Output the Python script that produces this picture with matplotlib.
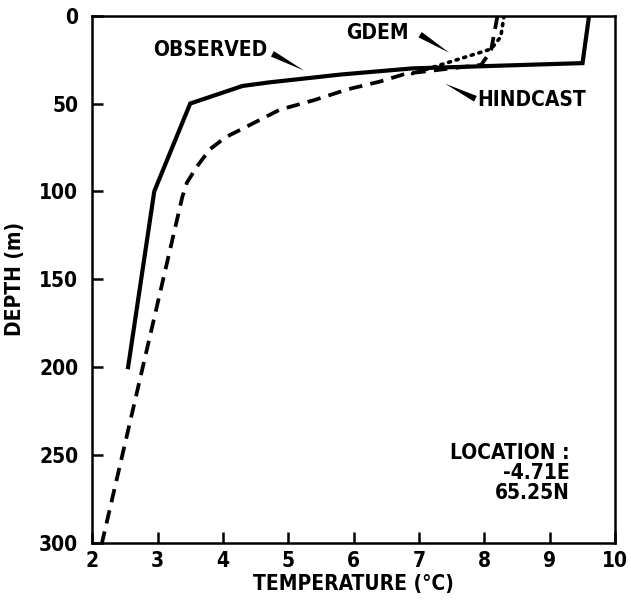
import numpy as np
import matplotlib.pyplot as plt

plt.rcParams['font.family'] = ['DejaVu Sans']
plt.rcParams['font.stretch'] = 'condensed'
plt.rcParams['font.weight'] = 'bold'

# Profiles (temperature in C, depth in m)
obs_temp = [9.6, 9.5, 6.9, 5.8, 4.7, 4.3, 3.5, 2.95, 2.55]
obs_depth = [0, 27, 30, 33.5, 38, 40, 50, 100, 200]

hind_temp = [8.2, 8.1, 7.95, 6.8, 6.4, 5.9, 5.4, 4.87, 4.37, 4.05, 3.8, 3.6, 3.45, 3.38, 2.15]
hind_depth = [0, 20, 28, 33, 37.5, 42, 48, 53.5, 63, 69, 76, 86, 95, 103, 300]

gdem_temp = [8.3, 8.25, 8.1, 7.5, 6.9]
gdem_depth = [0, 12, 19, 26, 33]

xticks = [2, 3, 4, 5, 6, 7, 8, 9, 10]
yticks = [0, 50, 100, 150, 200, 250, 300]

fig = plt.figure(figsize=(6.31, 6.02), dpi=100)
ax = fig.add_axes([0.146, 0.098, 0.829, 0.876])

ax.plot(obs_temp, obs_depth, color='black', lw=3, solid_joinstyle='miter')
ax.plot(hind_temp, hind_depth, color='black', lw=2.7, linestyle=(0, (3.6, 2.2)))
ax.plot(gdem_temp, gdem_depth, color='black', lw=2.6, linestyle=(0, (0.6, 1.6)),
        dash_capstyle='round')

ax.set_xlim(2, 10)
ax.set_ylim(300, 0)
ax.set_xticks(xticks)
ax.set_yticks(yticks)
ax.tick_params(direction='in', length=8, width=1.8, labelsize=15, pad=6)
ax.tick_params(axis='y', pad=10)
for lab in ax.get_xticklabels() + ax.get_yticklabels():
    lab.set_fontweight('bold')
for s in ax.spines.values():
    s.set_linewidth(1.8)

ax.set_xlabel('TEMPERATURE (°C)', fontsize=15, fontweight='bold', labelpad=2)
ax.set_ylabel('DEPTH (m)', fontsize=15, fontweight='bold', labelpad=10)

# Labels with tapered pointers
wedge = dict(arrowstyle='wedge,tail_width=0.45,shrink_factor=0.5', color='black', lw=0)
ax.text(3.8, 19.5, 'OBSERVED', fontsize=15, fontweight='bold', ha='center', va='center')
ax.annotate('', xy=(5.28, 32), xytext=(4.72, 21), arrowprops=wedge)
ax.text(6.36, 10, 'GDEM', fontsize=15, fontweight='bold', ha='center', va='center')
ax.annotate('', xy=(7.5, 22), xytext=(6.98, 10), arrowprops=wedge)
ax.text(8.72, 48, 'HINDCAST', fontsize=15, fontweight='bold', ha='center', va='center')
ax.annotate('', xy=(7.36, 38), xytext=(7.9, 48), arrowprops=wedge)

ax.text(9.3, 260, 'LOCATION :\n-4.71E\n65.25N', fontsize=15, fontweight='bold',
        ha='right', va='center', multialignment='right', linespacing=1.0)

fig.savefig('out.png', dpi=100)
